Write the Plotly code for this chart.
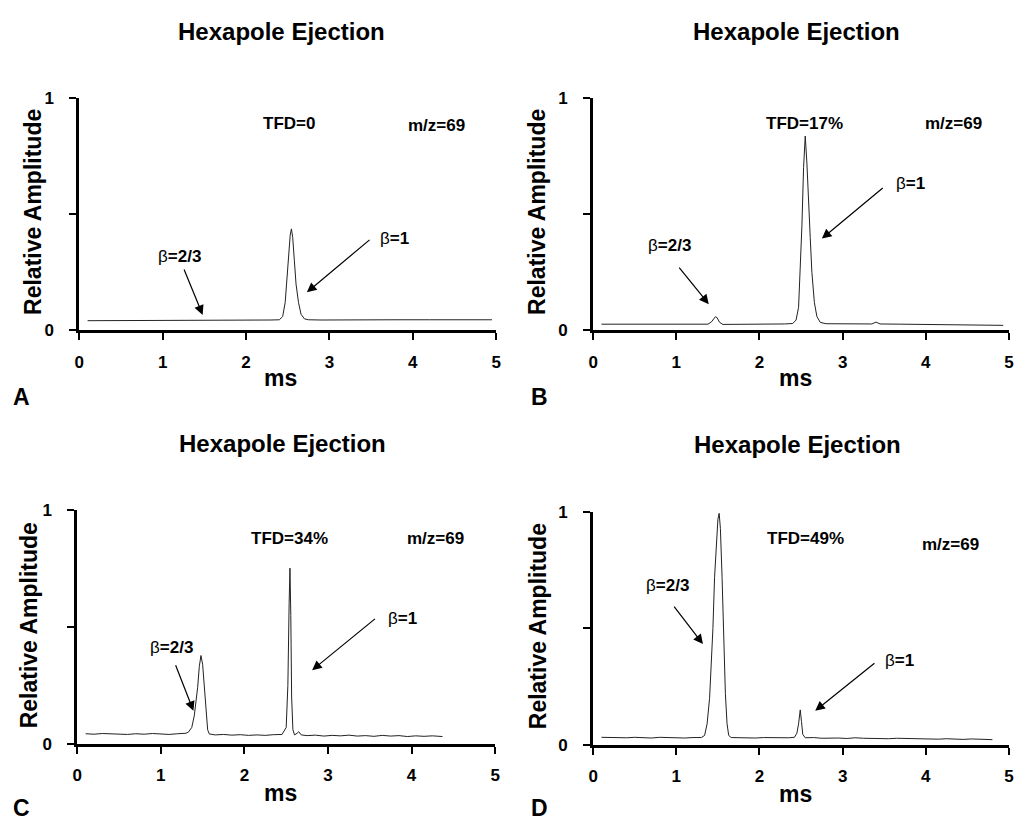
import plotly.graph_objects as go

# ---------------- data ----------------
A_x = [0.10, 0.40, 0.80, 1.20, 1.60, 2.00, 2.30, 2.40, 2.44, 2.47, 2.49, 2.51, 2.53, 2.545,
       2.56, 2.58, 2.60, 2.63, 2.66, 2.70, 2.75, 2.90, 3.20, 3.50, 3.80, 4.20, 4.60, 4.95]
A_y = [0.042, 0.042, 0.043, 0.043, 0.044, 0.044, 0.045, 0.046, 0.06, 0.12, 0.22, 0.33, 0.41, 0.437,
       0.40, 0.30, 0.20, 0.12, 0.07, 0.05, 0.046, 0.045, 0.046, 0.047, 0.046, 0.046, 0.046, 0.046]

B_x = [0.10, 0.30, 0.60, 0.90, 1.20, 1.38, 1.42, 1.45, 1.47, 1.49, 1.52, 1.56, 1.70, 2.00,
       2.30, 2.40, 2.44, 2.47, 2.49, 2.51, 2.53, 2.55, 2.57, 2.59, 2.61, 2.63, 2.66, 2.69,
       2.73, 2.80, 3.00, 3.20, 3.35, 3.40, 3.45, 3.70, 4.00, 4.30, 4.60, 4.93]
B_y = [0.027, 0.027, 0.026, 0.027, 0.026, 0.027, 0.036, 0.052, 0.059, 0.055, 0.035, 0.026, 0.026, 0.027,
       0.028, 0.030, 0.045, 0.10, 0.25, 0.45, 0.70, 0.836, 0.72, 0.52, 0.40, 0.25, 0.12, 0.06,
       0.035, 0.029, 0.028, 0.030, 0.028, 0.036, 0.028, 0.027, 0.026, 0.026, 0.025, 0.022]

C_x = [0.10, 0.20, 0.30, 0.40, 0.50, 0.60, 0.70, 0.80, 0.90, 1.00, 1.10, 1.20, 1.30,
       1.33, 1.37, 1.40, 1.42, 1.44, 1.46, 1.48, 1.50, 1.52, 1.54, 1.56, 1.58,
       1.65, 1.75, 1.85, 1.95, 2.05, 2.15, 2.25, 2.35, 2.45,
       2.50, 2.52, 2.535, 2.545, 2.555, 2.565, 2.58, 2.60,
       2.63, 2.65, 2.68,
       2.75, 2.85, 2.95, 3.05, 3.15, 3.25, 3.35, 3.45, 3.55, 3.65, 3.75, 3.85, 3.95, 4.05, 4.15, 4.25,
       4.37]
C_y = [0.043, 0.041, 0.044, 0.042, 0.043, 0.040, 0.043, 0.041, 0.044, 0.042, 0.040, 0.043, 0.045,
       0.05, 0.07, 0.12, 0.17, 0.24, 0.33, 0.378, 0.34, 0.24, 0.12, 0.06, 0.042,
       0.038, 0.040, 0.037, 0.039, 0.036, 0.038, 0.036, 0.039, 0.040,
       0.07, 0.25, 0.60, 0.752, 0.55, 0.20, 0.06, 0.038,
       0.045, 0.052, 0.038,
       0.035, 0.037, 0.033, 0.036, 0.034, 0.037, 0.033, 0.035, 0.032, 0.036, 0.033, 0.035, 0.031, 0.034, 0.032, 0.034,
       0.031]

D_x = [0.10, 0.20, 0.30, 0.40, 0.50, 0.60, 0.70, 0.80, 0.90, 1.00, 1.10, 1.20,
       1.30, 1.34, 1.37, 1.40, 1.42, 1.44, 1.46, 1.48, 1.50, 1.515, 1.53, 1.55, 1.57, 1.59, 1.61, 1.63, 1.66,
       1.75, 1.85, 1.95, 2.05, 2.15, 2.25, 2.35,
       2.42, 2.45, 2.47, 2.49, 2.505, 2.52, 2.55,
       2.65, 2.75, 2.85, 2.95, 3.05, 3.15, 3.25, 3.35, 3.45, 3.55, 3.65, 3.75, 3.85, 3.95, 4.05, 4.15,
       4.25, 4.35, 4.45, 4.55, 4.65, 4.75,
       4.80]
D_y = [0.032, 0.031, 0.033, 0.030, 0.032, 0.031, 0.029, 0.032, 0.030, 0.031, 0.029, 0.031,
       0.031, 0.04, 0.09, 0.20, 0.33, 0.50, 0.72, 0.88, 0.97, 0.995, 0.93, 0.72, 0.45, 0.22, 0.09, 0.04, 0.031,
       0.030, 0.032, 0.029, 0.031, 0.030, 0.032, 0.030,
       0.032, 0.05, 0.09, 0.15, 0.10, 0.045, 0.030,
       0.031, 0.028, 0.030, 0.029, 0.027, 0.030, 0.028, 0.027, 0.029, 0.026, 0.028, 0.027, 0.025, 0.027, 0.026, 0.024,
       0.026, 0.024, 0.023, 0.025, 0.023, 0.022,
       0.022]

panel_letters = ["A", "B", "C", "D"]
panel_tfd = ["TFD=0", "TFD=17%", "TFD=34%", "TFD=49%"]
panel_title = "Hexapole Ejection"
mz_label = "m/z=69"
x_ticks = [0, 1, 2, 3, 4, 5]
y_ticks = [0, 0.5, 1]
y_ticktext = ["0", "", "1"]

# ---------------- layout geometry (paper px) ----------------
W, H = 1015, 830
FONT = "Liberation Sans, Arial, Helvetica, sans-serif"

def px(xp):
    return xp / W

def py(yp):
    return 1 - yp / H

# (x0, x1, ytop, ybottom) pixel boxes of the four plot areas
boxes = [(75, 496, 91, 329), (594, 1014, 91, 329), (73, 495, 513, 752), (594, 1014, 515, 753)]

fig = go.Figure()
series = [(A_x, A_y), (B_x, B_y), (C_x, C_y), (D_x, D_y)]
for i, (xs, ys) in enumerate(series):
    fig.add_trace(go.Scatter(x=xs, y=ys, mode="lines",
                             line=dict(color="#222222", width=1),
                             xaxis=f"x{i+1 if i else ''}", yaxis=f"y{i+1 if i else ''}",
                             showlegend=False, hoverinfo="skip"))

layout = dict(width=W, height=H, margin=dict(l=0, r=0, t=0, b=0),
              paper_bgcolor="white", plot_bgcolor="white",
              font=dict(family=FONT, color="black"), showlegend=False)

for i, (x0, x1, yt, yb) in enumerate(boxes):
    sfx = str(i + 1) if i else ""
    layout["xaxis" + sfx] = dict(domain=[px(x0), px(x1)], range=[0, 5], anchor="y" + sfx,
                                 tickvals=x_ticks, showline=True, linewidth=3, linecolor="black",
                                 ticks="outside", ticklen=7, tickwidth=2, tickcolor="black",
                                 showgrid=False, zeroline=False, ticklabelstandoff=7,
                                 tickfont=dict(size=17, weight="bold", family=FONT))
    layout["yaxis" + sfx] = dict(domain=[py(yb), py(yt)], range=[0, 1], anchor="x" + sfx,
                                 tickvals=y_ticks, ticktext=y_ticktext,
                                 showline=True, linewidth=3, linecolor="black",
                                 ticks="outside", ticklen=7, tickwidth=2, tickcolor="black",
                                 showgrid=False, zeroline=False, ticklabelstandoff=12,
                                 tickfont=dict(size=17, weight="bold", family=FONT))

ann = []

def txt(x, y, s, size, xref="paper", yref="paper", **kw):
    d = dict(x=x, y=y, text=s, xref=xref, yref=yref, showarrow=False,
             font=dict(size=size, family=FONT, color="black"), xanchor="center", yanchor="middle")
    d.update(kw)
    ann.append(d)

# titles, panel letters, axis titles (paper positions)
title_pos = [(279, 23), (799, 23), (280, 445), (800, 446)]
letter_pos = [(17, 397), (540, 397), (17, 818), (540, 818)]
ms_pos = [(278, 378), (798, 378), (278, 802), (798, 803)]
ra_pos = [(29, 208), (538, 208), (24, 631), (538, 632)]
for i in range(4):
    txt(px(title_pos[i][0]), py(title_pos[i][1]), f"<b>{panel_title}</b>", 24)
    txt(px(letter_pos[i][0]), py(letter_pos[i][1]), f"<b>{panel_letters[i]}</b>", 23)
    txt(px(ms_pos[i][0]), py(ms_pos[i][1]), "<b>ms</b>", 23)
    txt(px(ra_pos[i][0]), py(ra_pos[i][1]), "<b>Relative Amplitude</b>", 23, textangle=-90)

# in-plot labels (data coordinates of each panel)
tfd_pos = [(2.52, 0.89), (2.54, 0.89), (2.54, 0.88), (2.55, 0.888)]
mz_pos = [(4.28, 0.88), (4.33, 0.89), (4.29, 0.88), (4.30, 0.863)]
b23_pos = [(1.20, 0.32), (0.92, 0.366), (1.13, 0.413), (0.89, 0.685)]
b1_pos = [(3.78, 0.395), (3.82, 0.634), (3.89, 0.538), (3.68, 0.363)]
# arrows: (tail_x, tail_y, head_x, head_y)
b23_arrow = [(1.25, 0.269, 1.48, 0.067), (1.02, 0.277, 1.39, 0.113),
             (1.17, 0.343, 1.39, 0.141), (0.96, 0.60, 1.32, 0.433)]
b1_arrow = [(3.50, 0.395, 2.73, 0.164), (3.50, 0.618, 2.75, 0.395),
            (3.58, 0.54, 2.81, 0.315), (3.40, 0.356, 2.67, 0.146)]

for i in range(4):
    xr = "x" + (str(i + 1) if i else "")
    yr = "y" + (str(i + 1) if i else "")
    txt(*tfd_pos[i], f"<b>{panel_tfd[i]}</b>", 17, xref=xr, yref=yr)
    txt(*mz_pos[i], f"<b>{mz_label}</b>", 17, xref=xr, yref=yr)
    txt(*b23_pos[i], "β<b>=2/3</b>", 17, xref=xr, yref=yr)
    txt(*b1_pos[i], "β<b>=1</b>", 17, xref=xr, yref=yr)
    for (tx, ty, hx, hy) in (b23_arrow[i], b1_arrow[i]):
        ann.append(dict(x=hx, y=hy, ax=tx, ay=ty, xref=xr, yref=yr, axref=xr, ayref=yr,
                        text="", showarrow=True, arrowhead=2, arrowsize=1.6, arrowwidth=1.2,
                        arrowcolor="black"))

layout["annotations"] = ann
fig.update_layout(**layout)
fig.write_html("out.html")
